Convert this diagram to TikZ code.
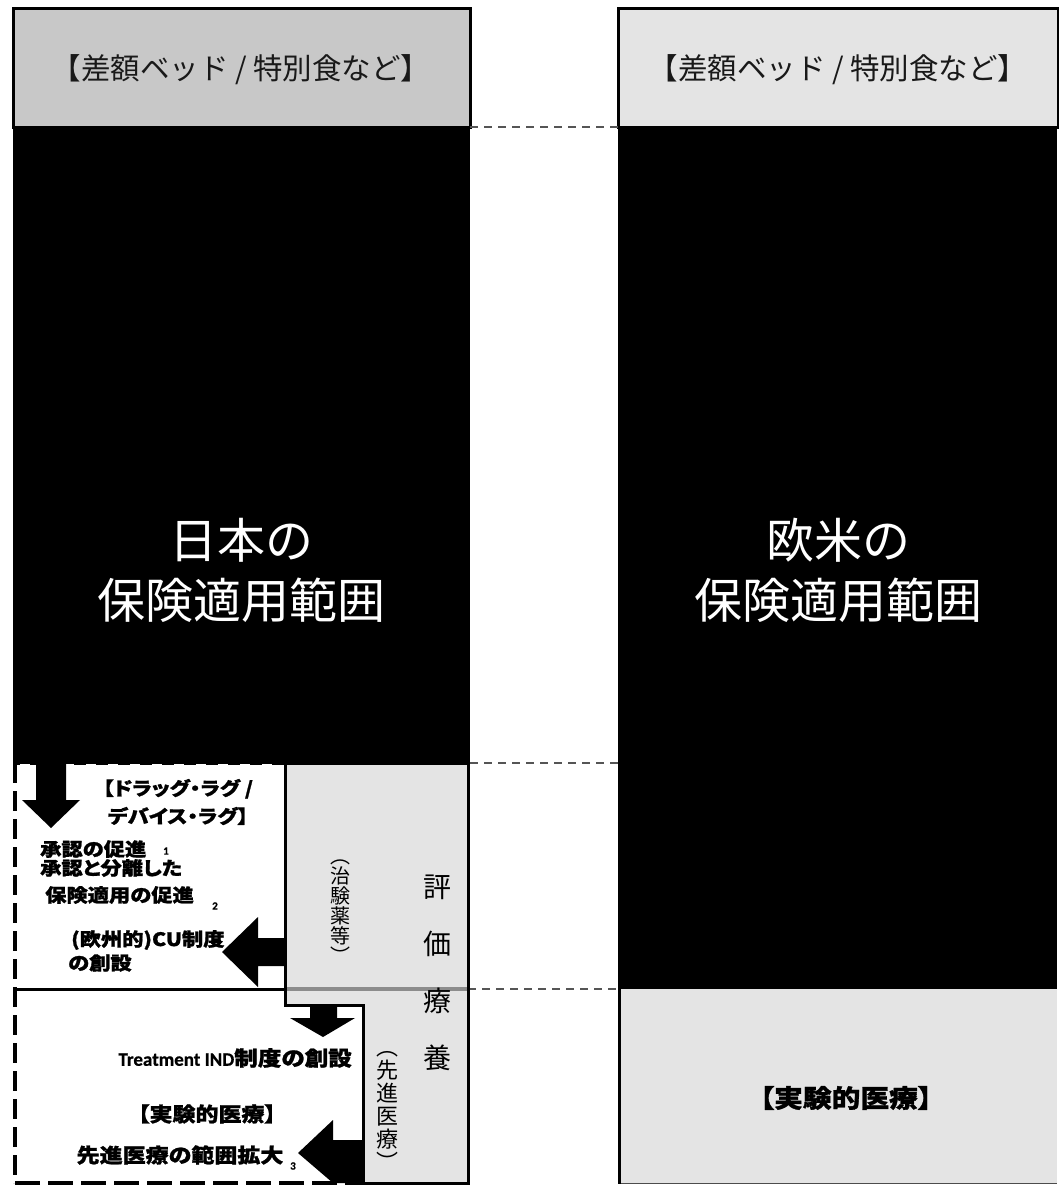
\documentclass[tikz,border=0pt]{standalone}
\usepackage{fontspec}
\newfontfamily\jp{Noto Sans CJK JP}
\newfontfamily\jph{Noto Sans CJK JP}[RawFeature=+palt, FakeStretch=1.15, BoldFeatures={FakeBold=1.2}]
\newfontfamily\calfont{Carlito}[BoldFeatures={FakeBold=0.8}]
\definecolor{gA}{HTML}{C8C8C8}
\definecolor{gB}{HTML}{E4E4E4}
\definecolor{dashg}{HTML}{555555}
\definecolor{seam}{HTML}{8C8C8C}
\tikzset{
  topboxtext/.style={font=\jp\fontsize{29.5}{32}\selectfont, text=black!90, inner sep=0pt},
  bigtext/.style={font=\jp\fontsize{48}{60}\selectfont, text=white, align=center, inner sep=0pt},
  boldlbl/.style={font=\jph\bfseries\fontsize{18.5}{28}\selectfont, inner sep=0pt},
  boldlbl2/.style={font=\jph\bfseries\fontsize{20}{26}\selectfont, inner sep=0pt},
  numlbl/.style={font=\calfont\bfseries\fontsize{11}{12}\selectfont, inner sep=0pt},
  vtext/.style={align=center, inner sep=0pt},
  thickborder/.style={line width=3pt, draw=black},
  guideline/.style={draw=dashg, line width=1.5pt, dash pattern=on 8pt off 6pt},
  blockarrow/.style={fill=black},
}
\begin{document}
\begin{tikzpicture}[x=1pt,y=-1pt]
\useasboundingbox (0,0) rectangle (1059,1186);
\fill[white] (0,0) rectangle (1059,1186);

% ---------- left column ----------
\fill[black] (13,127) rectangle (470,763);
\draw[thickborder, fill=gA] (13,8) rectangle (470,127);
\coordinate (L127) at (470,127);
\coordinate (L763) at (470,763);
\coordinate (L989) at (468,989);

% ---------- right column ----------
\fill[black] (618,127) rectangle (1057,989);
\fill[gB] (618,989) rectangle (1057,1183);
\draw[black!70, line width=1pt] (618,1183) -- (1057,1183);
\draw[thickborder, fill=gB] (618,8) rectangle (1058,127);
\draw[thickborder] (619,127) -- (619,1184);
\coordinate (R127) at (618,127);
\coordinate (R763) at (618,763);
\coordinate (R989) at (618,989);

% dashed guide lines
\draw[guideline] (L127) -- (R127);
\draw[guideline] (L763) -- (R763);
\draw[guideline] (L989) -- (R989);

% ---------- lower-left region ----------
\draw[line width=3pt] (13,763) -- (286,763);
\draw[white, line width=0.6pt, dash pattern=on 10pt off 12pt] (20,764) -- (284,764);
\draw[line width=3pt] (13,989) -- (286,989);
\draw[line width=4pt, dash pattern=on 20pt off 8pt] (15,763) -- (15,1183);
\draw[line width=4pt, dash pattern=on 25pt off 8pt] (15,1183) -- (363,1183);

% evaluation box (stepped)
\draw[thickborder, fill=gB, line join=miter]
  (285,763) -- (468,763) -- (468,1183) -- (363,1183) -- (363,1005) -- (285,1005) -- cycle;
\draw[seam, line width=4pt] (287,989) -- (466.5,989);

% block arrows
\fill[blockarrow] (36,763) -- (66,763) -- (66,800) -- (80,800) -- (51,828) -- (22,800) -- (36,800) -- cycle;
\fill[blockarrow] (285,938) -- (258,938) -- (258,917) -- (222,952) -- (258,987) -- (258,966) -- (285,966) -- cycle;
\fill[blockarrow] (310,1006) -- (337,1006) -- (337,1018) -- (355,1018) -- (323,1037) -- (290,1018) -- (310,1018) -- cycle;
\fill[blockarrow] (363,1140) -- (333,1140) -- (333,1120) -- (298,1153) -- (333,1183) -- (363,1183) -- cycle;

% ---------- texts ----------
\node[topboxtext] (topL) at (241,70) {【差額ベッド / 特別食など】};
\node[topboxtext] (topR) at (838,70) {【差額ベッド / 特別食など】};

\node[bigtext] (japan) at (241,570) {日本の\\保険適用範囲};
\node[bigtext] (west) at (838,570) {欧米の\\保険適用範囲};

\node[boldlbl, align=center] (lag) at (178,802) {【ドラッグ・ラグ /\\デバイス・ラグ】};
\node[boldlbl, anchor=west] (ap1) at (40,849) {承認の促進};
\node[numlbl] (n1) at (166,851) {1};
\node[boldlbl, anchor=west] (ap2) at (40,868) {承認と分離した};
\node[boldlbl, anchor=west] (ap3) at (45,895) {保険適用の促進};
\node[numlbl] (n2) at (215,906) {2};
\node[boldlbl, anchor=west] (cu1) at (71,940) {(欧州的)CU制度};
\node[boldlbl, anchor=west] (cu2) at (68,963) {の創設};

\node[anchor=east, inner sep=0pt] (tind) at (352,1058)
  {{\calfont\bfseries\fontsize{19}{22}\selectfont Treatment IND}{\jph\bfseries\fontsize{20.5}{26}\selectfont 制度の創設}};
\node[boldlbl2] (exL) at (207,1114) {【実験的医療】};
\node[boldlbl2] (adv) at (180,1155) {先進医療の範囲拡大};
\node[numlbl] (n3) at (293,1166) {3};

\node[font=\jph\bfseries\fontsize{25}{30}\selectfont, inner sep=0pt] (exR) at (846,1098) {【実験的医療】};

% vertical texts
\node[vtext, font=\jp\fontsize{20}{20}\selectfont] (chiken) at (340,912) {︵\\治\\験\\薬\\等\\︶};
\node[vtext, font=\jp\fontsize{28}{57}\selectfont] (hyoka) at (437,973) {評\\価\\療\\養};
\node[vtext, font=\jp\fontsize{22}{23}\selectfont] (senshin) at (387,1111) {︵\\先\\進\\医\\療\\︶};
\end{tikzpicture}
\end{document}
